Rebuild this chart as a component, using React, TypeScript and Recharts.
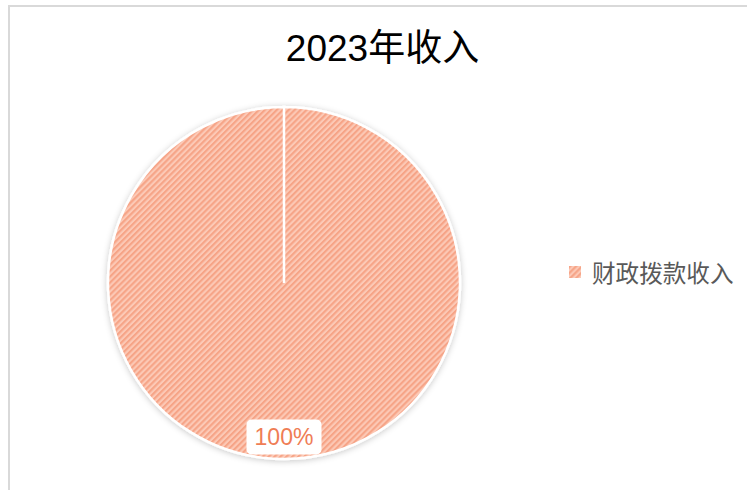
import React from 'react';
import { PieChart, Pie, Cell, Legend, Sector } from 'recharts';

const title = '2023年收入';
const categories = ['财政拨款收入'];
const values = [100];

const data = categories.map((name, i) => ({ name, value: values[i] }));

const RADIAN = Math.PI / 180;

const renderLabel = (props: any) => {
  const { cx, cy, midAngle, outerRadius, percent } = props;
  const r = outerRadius * 0.875;
  const x = cx + r * Math.cos(-midAngle * RADIAN);
  const y = cy + r * Math.sin(-midAngle * RADIAN);
  const txt = `${Math.round(percent * 100)}%`;
  return (
    <g>
      <rect x={x - 37.5} y={y - 17.5} width={75} height={35} rx={5} ry={5} fill="#ffffff" />
      <text
        x={x}
        y={y}
        textAnchor="middle"
        dominantBaseline="central"
        fill="#ef7d55"
        fontSize={23}
        fontFamily="'Liberation Sans', Arial, sans-serif"
      >
        {txt}
      </text>
    </g>
  );
};

const renderShape = (props: any) => (
  <g filter="url(#pieShadow)">
    <Sector {...props} />
  </g>
);

const renderLegend = (props: any) => {
  const { payload } = props;
  return (
    <div>
      {(payload || []).map((p: any, i: number) => (
        <div key={i} style={{ display: 'flex', alignItems: 'center' }}>
          <svg width={12} height={12} style={{ marginRight: 11 }}>
            <rect x={0} y={0} width={12} height={12} fill="url(#stripes)" />
          </svg>
          <span
            style={{
              fontSize: 23.6,
              color: '#595959',
              fontFamily: "'Noto Sans CJK SC', sans-serif",
              lineHeight: '28px',
            }}
          >
            {p.value}
          </span>
        </div>
      ))}
    </div>
  );
};

export default function App() {
  return (
    <div style={{ position: 'absolute', left: 0, top: 0, width: 747, height: 490, overflow: 'hidden', background: '#fff' }}>
      <svg width={0} height={0} style={{ position: 'absolute' }}>
        <defs>
          <pattern id="stripes" patternUnits="userSpaceOnUse" width={4.2} height={4.2} patternTransform="rotate(45)">
            <rect x={0} y={0} width={4.2} height={4.2} fill="#fcc9b6" />
            <rect x={0} y={0} width={2.1} height={4.2} fill="#f6a487" />
          </pattern>
          <filter id="pieShadow" x="-10%" y="-10%" width="120%" height="120%">
            <feDropShadow dx={0} dy={1} stdDeviation={3} floodColor="#000" floodOpacity={0.22} />
          </filter>
        </defs>
      </svg>
      <div
        style={{
          position: 'absolute',
          left: 8,
          top: 5,
          width: 780,
          height: 520,
          border: '2px solid #d9d9d9',
          boxSizing: 'border-box',
        }}
      >
        <div
          style={{
            position: 'absolute',
            left: 0,
            top: 15,
            width: 747,
            textAlign: 'center',
            fontSize: 37,
            color: '#000',
            fontFamily: "'Liberation Sans', 'Noto Sans CJK SC', sans-serif",
            lineHeight: '54px',
          }}
        >
          <span style={{ position: 'relative', left: -1 }}>{title}</span>
        </div>
        <PieChart width={737} height={484} style={{ position: 'absolute', left: 0, top: 0 }}>
          <Pie
            data={data}
            dataKey="value"
            nameKey="name"
            cx={269}
            cy={271}
            outerRadius={176}
            startAngle={90}
            endAngle={-270}
            stroke="#ffffff"
            strokeWidth={2.5}
            isAnimationActive={false}
            label={renderLabel}
            labelLine={false}
            shape={renderShape}
          >
            {data.map((d, i) => (
              <Cell key={i} fill="url(#stripes)" />
            ))}
          </Pie>
          <Legend
            layout="vertical"
            align="right"
            verticalAlign="middle"
            content={renderLegend}
            wrapperStyle={{ left: 559, top: 251, width: 185, height: 30 }}
          />
        </PieChart>
      </div>
    </div>
  );
}
